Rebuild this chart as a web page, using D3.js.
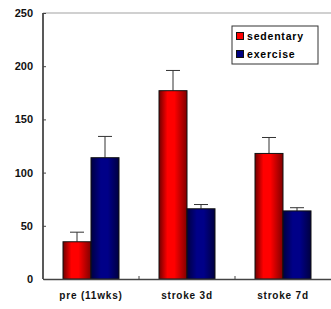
<!DOCTYPE html>
<html>
<head>
<meta charset="utf-8">
<script src="https://cdn.jsdelivr.net/npm/d3@7"></script>
<style>
  * { margin: 0; padding: 0; }
  body { background: #fff; }
  text { font-family: Arial, "Liberation Sans", sans-serif; font-weight: bold; }
</style>
</head>
<body>
<div id="chart"></div>
<script>
var categories = ["pre (11wks)", "stroke 3d", "stroke 7d"];
var series = ["sedentary", "exercise"];
var sedentary = [35, 177, 118];
var sedentaryErr = [9, 19, 15];
var exercise = [114, 66, 64];
var exerciseErr = [20, 4, 3];
var yTicks = [0, 50, 100, 150, 200, 250];

var width = 331, height = 309;
var margin = { top: 13, right: 0, bottom: 30, left: 43 };

var svg = d3.select("#chart").append("svg")
    .attr("width", width)
    .attr("height", height);

var defs = svg.append("defs");
function grad(id, stops) {
    var g = defs.append("linearGradient").attr("id", id)
        .attr("x1", "0%").attr("x2", "100%").attr("y1", "0%").attr("y2", "0%");
    stops.forEach(function (s) {
        g.append("stop").attr("offset", s[0]).attr("stop-color", s[1]);
    });
}
grad("gRed", [["0%", "#700000"], ["30%", "#ff0000"], ["55%", "#ff0000"], ["100%", "#800000"]]);
grad("gBlue", [["0%", "#000040"], ["35%", "#000088"], ["60%", "#000088"], ["100%", "#000040"]]);

var x = d3.scaleBand()
    .domain(categories)
    .range([margin.left, width])
    .paddingInner(0)
    .paddingOuter(0);

var x1 = d3.scaleBand()
    .domain(series)
    .range([20, x.bandwidth() - 20]);

var y = d3.scaleLinear()
    .domain([0, 250])
    .range([height - margin.bottom, margin.top]);

// top gridline
svg.append("line")
    .attr("x1", margin.left).attr("x2", width)
    .attr("y1", y(250)).attr("y2", y(250))
    .attr("stroke", "#c0c0c0").attr("stroke-width", 1.5);

var data = [];
categories.forEach(function (c, i) {
    data.push({ cat: c, key: "sedentary", v: sedentary[i], e: sedentaryErr[i] });
    data.push({ cat: c, key: "exercise", v: exercise[i], e: exerciseErr[i] });
});

// error bars
var eb = svg.append("g").attr("stroke", "#333").attr("stroke-width", 1);
eb.selectAll(".ev").data(data).enter().append("line")
    .attr("x1", function (d) { return x(d.cat) + x1(d.key) + x1.bandwidth() / 2; })
    .attr("x2", function (d) { return x(d.cat) + x1(d.key) + x1.bandwidth() / 2; })
    .attr("y1", function (d) { return y(d.v); })
    .attr("y2", function (d) { return y(d.v + d.e); });
eb.selectAll(".ec").data(data).enter().append("line")
    .attr("x1", function (d) { return x(d.cat) + x1(d.key) + x1.bandwidth() / 2 - 7; })
    .attr("x2", function (d) { return x(d.cat) + x1(d.key) + x1.bandwidth() / 2 + 7; })
    .attr("y1", function (d) { return y(d.v + d.e); })
    .attr("y2", function (d) { return y(d.v + d.e); });

// bars
svg.append("g").selectAll("rect").data(data).enter().append("rect")
    .attr("x", function (d) { return x(d.cat) + x1(d.key); })
    .attr("y", function (d) { return y(d.v); })
    .attr("width", x1.bandwidth())
    .attr("height", function (d) { return y(0) - y(d.v); })
    .attr("fill", function (d) { return d.key == "sedentary" ? "url(#gRed)" : "url(#gBlue)"; })
    .attr("stroke", "#111").attr("stroke-width", 1);

// y axis
var yAxis = svg.append("g")
    .attr("transform", "translate(" + margin.left + ",0)")
    .call(d3.axisLeft(y).tickValues(yTicks).tickSize(-3).tickPadding(10));
yAxis.select(".domain").attr("stroke", "#222").attr("stroke-width", 1.5).attr("d", "M0," + y(0) + "V" + y(250));
yAxis.selectAll(".tick line").attr("stroke", "#444");
yAxis.selectAll("text").style("font-size", "11px").attr("fill", "#111");

// x axis
var xAxis = svg.append("g")
    .attr("transform", "translate(0," + y(0) + ")")
    .call(d3.axisBottom(x).tickSize(0).tickPadding(13));
xAxis.select(".domain").attr("stroke", "#444").attr("stroke-width", 1.5);
xAxis.selectAll("text").style("font-size", "10px").style("letter-spacing", "0.8px").attr("fill", "#111");
// category separator ticks
svg.append("g").selectAll("line").data(categories.slice(1)).enter().append("line")
    .attr("x1", function (d) { return x(d); }).attr("x2", function (d) { return x(d); })
    .attr("y1", y(0)).attr("y2", y(0) - 3)
    .attr("stroke", "#444");

// legend
var lg = svg.append("g").attr("transform", "translate(232,26)");
lg.append("rect").attr("width", 86).attr("height", 38)
    .attr("fill", "#fff").attr("stroke", "#333").attr("stroke-width", 1);
lg.selectAll(".sw").data(series).enter().append("rect")
    .attr("x", 4.5).attr("y", function (d, i) { return 6.5 + i * 18; })
    .attr("width", 7).attr("height", 7)
    .attr("fill", function (d, i) { return i == 0 ? "#ff0000" : "#000080"; })
    .attr("stroke", "#111").attr("stroke-width", 1);
lg.selectAll(".lt").data(series).enter().append("text")
    .attr("x", 15).attr("y", function (d, i) { return 14 + i * 18; })
    .style("font-size", "10.5px").style("letter-spacing", "0.8px")
    .style("font-weight", "900")
    .attr("fill", "#000")
    .text(function (d) { return d; });
</script>
</body>
</html>
